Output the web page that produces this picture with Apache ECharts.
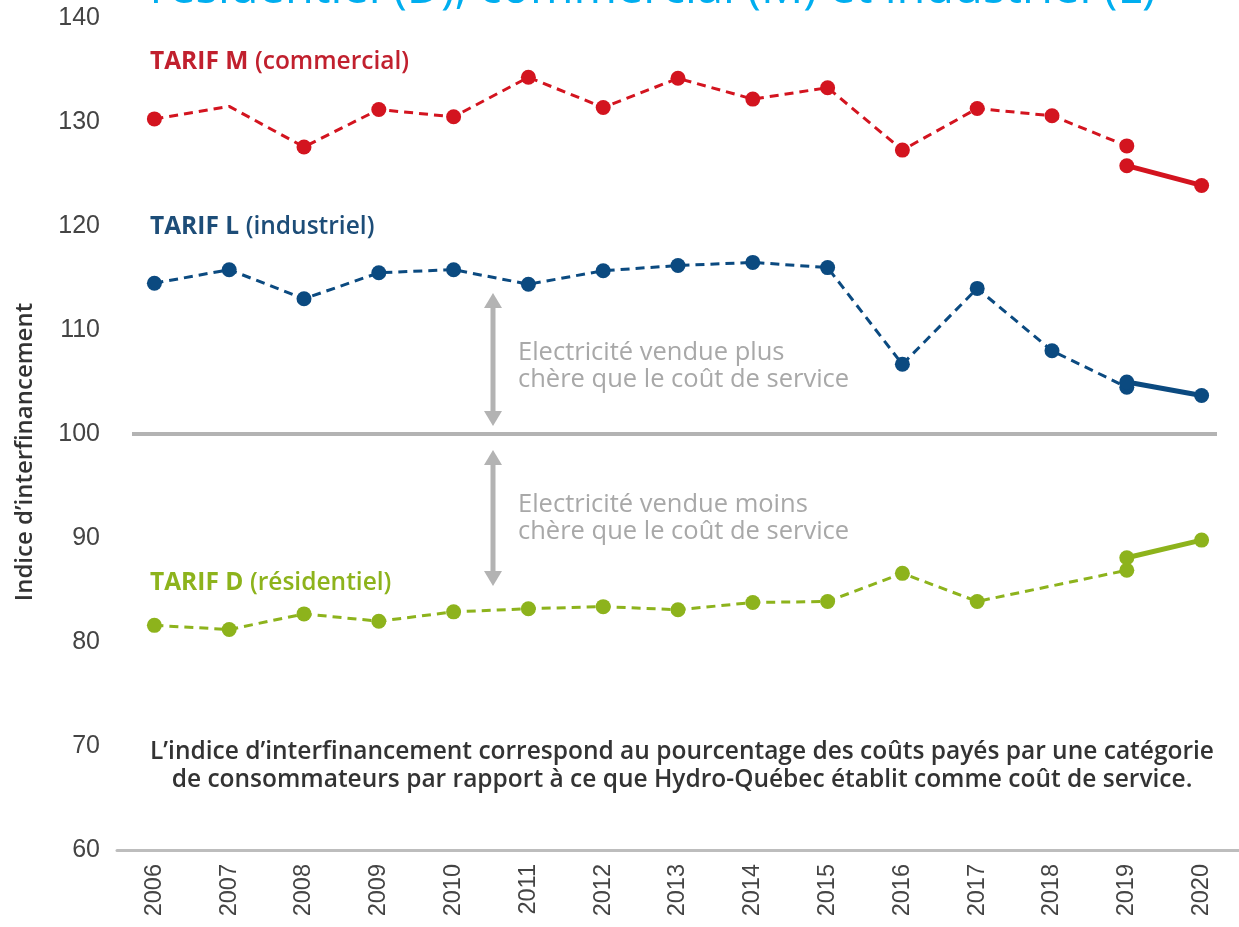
<!DOCTYPE html>
<html>
<head>
<meta charset="utf-8">
<script src="https://cdn.jsdelivr.net/npm/echarts@6/dist/echarts.min.js"></script>
<style>
html,body{margin:0;padding:0;background:#fff;}
#chart{width:1239px;height:927px;}
</style>
</head>
<body>
<div id="chart"></div>
<script>
// ---- Data ----
const years = ['2006','2007','2008','2009','2010','2011','2012','2013','2014','2015','2016','2017','2018','2019','2020'];
const tarifM    = [130.3,131.5,127.6,131.2,130.5,134.3,131.4,134.2,132.2,133.3,127.3,131.3,130.6,127.7,null];
const tarifMNew = [null,null,null,null,null,null,null,null,null,null,null,null,null,125.8,123.9];
const tarifL    = [114.5,115.8,113.0,115.5,115.8,114.4,115.7,116.2,116.5,116.0,106.7,114.0,108.0,104.5,null];
const tarifLNew = [null,null,null,null,null,null,null,null,null,null,null,null,null,105.0,103.7];
const tarifD    = [81.6,81.2,82.7,82.0,82.9,83.2,83.4,83.1,83.8,83.9,86.6,83.9,null,86.9,null];
const tarifDNew = [null,null,null,null,null,null,null,null,null,null,null,null,null,88.1,89.8];
const hiddenMarkersM = ['2007'];
const yTicks = [60,70,80,90,100,110,120,130,140];
const refLevel = 100;

const RED = '#d3141f', RED_T = '#c1202e';
const BLUE = '#0b4a80', BLUE_T = '#1d4d78';
const GREEN = '#8db31c', GREEN_T = '#8db31c';
const GREY = '#b3b3b3';
const FONT = '"Open Sans", "Noto Sans", sans-serif';

function withHidden(arr, hidden){
  return arr.map((v,i)=> hidden.indexOf(years[i])>=0 ? {value:v, symbol:'none'} : v);
}
function dashed(name, data, color){
  return {name, type:'line', data, connectNulls:true, symbol:'circle', symbolSize:15,
    itemStyle:{color}, lineStyle:{color, width:3, type:[9,6]}, z:3, animation:false};
}
function solid(name, data, color){
  return {name, type:'line', data, symbol:'circle', symbolSize:15,
    itemStyle:{color}, lineStyle:{color, width:5}, z:4, animation:false};
}

const chart = echarts.init(document.getElementById('chart'), null, {renderer:'canvas'});
chart.setOption({
  backgroundColor:'#fff',
  animation:false,
  grid:{left:117, right:-12, top:18, bottom:77, containLabel:false},
  xAxis:{type:'category', data:years, boundaryGap:true,
    axisLine:{lineStyle:{color:'#bdbdbd', width:3}},
    axisTick:{show:false},
    axisLabel:{rotate:90, fontSize:23.5, color:'#444', margin:14, fontFamily:'"Liberation Sans", sans-serif'}},
  yAxis:{type:'value', min:yTicks[0], max:yTicks[yTicks.length-1], interval:10,
    axisLine:{show:false}, axisTick:{show:false}, splitLine:{show:false},
    axisLabel:{fontSize:25, color:'#444', margin:17, fontFamily:'"Liberation Sans Narrow", "Liberation Sans", sans-serif'}},
  series:[
    dashed('M', withHidden(tarifM, hiddenMarkersM), RED),
    solid('M2', tarifMNew, RED),
    dashed('L', tarifL, BLUE),
    solid('L2', tarifLNew, BLUE),
    dashed('D', tarifD, GREEN),
    solid('D2', tarifDNew, GREEN)
  ]
});

const y100 = chart.convertToPixel({yAxisIndex:0}, refLevel);
function arrow(x, y1, y2){
  const h = 15, w = 9;
  return [
    {type:'line', shape:{x1:x, y1:y1+h-2, x2:x, y2:y2-h+2}, style:{stroke:GREY, lineWidth:5}},
    {type:'polygon', shape:{points:[[x,y1],[x-w,y1+h],[x+w,y1+h]]}, style:{fill:GREY}},
    {type:'polygon', shape:{points:[[x,y2],[x-w,y2-h],[x+w,y2-h]]}, style:{fill:GREY}}
  ];
}
const labelRich = (c)=>({b:{fontSize:24.5, fontWeight:700, fill:c, fontFamily:FONT}, n:{fontSize:24.5, fontWeight:600, fill:c, fontFamily:FONT}});
const label = (txt, y, c)=>({type:'text', x:150, y:y, style:{text:txt, rich:labelRich(c), verticalAlign:'middle', align:'left'}});
chart.setOption({
  graphic:[
    {type:'text', x:150, y:-10, style:{text:'résidentiel (D), commercial (M) et industriel (L)', font:'400 47px "Open Sans", sans-serif', fill:'#00aeef', verticalAlign:'middle', align:'left'}},
    {type:'text', x:25, y:452, rotation:Math.PI/2, style:{text:'Indice d’interfinancement', font:'600 24px "Open Sans", sans-serif', fill:'#333', align:'center', verticalAlign:'middle'}},
    {type:'line', shape:{x1:132, y1:y100, x2:1217, y2:y100}, style:{stroke:GREY, lineWidth:4}, z:1},
    ...arrow(493, 293, y100-8),
    ...arrow(493, y100+16, 586),
    label('{b|TARIF M}  {n|(commercial)}', 62, RED_T),
    label('{b|TARIF L}  {n|(industriel)}', 227, BLUE_T),
    label('{b|TARIF D}  {n|(résidentiel)}', 583, GREEN_T),
    {type:'text', x:518, y:366, style:{text:'Electricité vendue plus\nchère que le coût de service', font:'400 25.5px "Open Sans", sans-serif', fill:'#a8a8a8', lineHeight:27, verticalAlign:'middle', align:'left'}},
    {type:'text', x:518, y:518, style:{text:'Electricité vendue moins\nchère que le coût de service', font:'400 25.5px "Open Sans", sans-serif', fill:'#a8a8a8', lineHeight:27, verticalAlign:'middle', align:'left'}},
    {type:'text', x:682, y:766, style:{text:'L’indice d’interfinancement correspond au pourcentage des coûts payés par une catégorie\nde consommateurs par rapport à ce que Hydro-Québec établit comme coût de service.', font:'600 24.5px "Open Sans", sans-serif', fill:'#333', lineHeight:28, align:'center', verticalAlign:'middle'}}
  ]
});
</script>
</body>
</html>
